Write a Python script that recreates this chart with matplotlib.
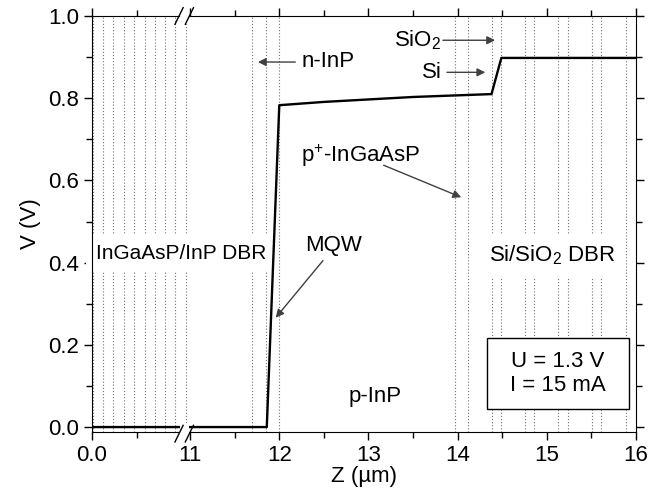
import numpy as np
import matplotlib
matplotlib.use("Agg")
import matplotlib.pyplot as plt
from matplotlib.patches import Rectangle

plt.rcParams['font.family'] = ['Liberation Sans', 'DejaVu Sans']
plt.rcParams['mathtext.default'] = 'regular'

# potential profile along the device
z_curve = [0.0, 11.86, 12.0, 12.5, 13.0, 13.5, 14.0, 14.38, 14.49, 16.0]
v_curve = [0.0, 0.0, 0.783, 0.791, 0.797, 0.803, 0.807, 0.810, 0.898, 0.898]

# layer interfaces (dotted lines)
dbr_bottom = [0.01, 0.123, 0.239, 0.359, 0.471, 0.591, 0.703, 0.815, 0.934, 1.05]
active = [11.69, 11.85, 12.0]
p_layers = [13.97, 14.115]
dbr_top = [14.38, 14.49, 14.75, 14.86, 15.13, 15.24, 15.51, 15.61, 15.89]

xticks = [0, 11, 12, 13, 14, 15, 16]
xticklabels = ['0.0', '11', '12', '13', '14', '15', '16']
xminor = [0.5, 11.5, 12.5, 13.5, 14.5, 15.5]
yticks = [0.0, 0.2, 0.4, 0.6, 0.8, 1.0]

# broken axis: 1.06..10.98 squeezed into a tiny gap
A, B, UB = 1.06, 10.98, 1.08


def fwd(z):
    z = np.asarray(z, float)
    return np.where(z <= A, z, np.where(z >= B, z - B + UB, A + (z - A) * (UB - A) / (B - A)))


def inv(u):
    u = np.asarray(u, float)
    return np.where(u <= A, u, np.where(u >= UB, u - UB + B, A + (u - A) * (B - A) / (UB - A)))


fig = plt.figure(figsize=(6.6, 4.97), dpi=100)
ax = fig.add_axes([92/660, 1 - 432/497, 544/660, 416/497])
ax.set_xscale('function', functions=(fwd, inv))
ax.set_xlim(0, 16)
ax.set_ylim(-0.012, 1.0)

for z in dbr_bottom + active + p_layers + dbr_top:
    ax.axvline(z, color='0.45', lw=0.8, ls=(0, (1, 1.8)), zorder=1)

ax.plot(z_curve, v_curve, color='black', lw=1.7, zorder=7)

fs = 16
ax.set_xticks(xticks)
ax.set_xticklabels(xticklabels)
ax.set_xticks(xminor, minor=True)
ax.set_yticks(yticks)
ax.set_yticklabels(['%.1f' % y for y in yticks])
ax.set_yticks(np.arange(0.1, 1.0, 0.2), minor=True)
ax.tick_params(which='both', direction='out', top=True, right=True, labelsize=fs, width=1)
ax.tick_params(which='major', length=6)
ax.tick_params(which='minor', length=4)
ax.set_xlabel('Z (µm)', fontsize=fs, labelpad=0)
ax.set_ylabel('V (V)', fontsize=fs, labelpad=5)

white = dict(facecolor='white', edgecolor='none', pad=7)
arrow = dict(arrowstyle='-|>', color='0.25', lw=1.0, mutation_scale=12, shrinkA=0, shrinkB=0)

ax.text(0.164, 0.43, 'InGaAsP/InP DBR', transform=ax.transAxes, ha='center', va='center',
        fontsize=15, bbox=white, zorder=2)
ax.text(15.06, 0.417, 'Si/SiO$_2$ DBR', ha='center', va='center', fontsize=fs, bbox=white, zorder=2)
ax.text(12.25, 0.89, 'n-InP', ha='left', va='center', fontsize=fs)
ax.annotate('', xy=(11.76, 0.888), xytext=(12.18, 0.888), arrowprops=arrow)
ax.text(13.82, 0.941, 'SiO$_2$', ha='right', va='center', fontsize=fs)
ax.annotate('', xy=(14.42, 0.941), xytext=(13.835, 0.941), arrowprops=arrow)
ax.text(13.82, 0.863, 'Si', ha='right', va='center', fontsize=fs)
ax.annotate('', xy=(14.31, 0.863), xytext=(13.88, 0.863), arrowprops=arrow)
ax.text(12.91, 0.661, 'p$^{+}$-InGaAsP', ha='center', va='center', fontsize=fs)
ax.annotate('', xy=(14.04, 0.559), xytext=(13.17, 0.637), arrowprops=arrow)
ax.text(12.61, 0.441, 'MQW', ha='center', va='center', fontsize=fs)
ax.annotate('', xy=(11.96, 0.266), xytext=(12.49, 0.405), arrowprops=arrow)
ax.text(13.07, 0.075, 'p-InP', ha='center', va='center', fontsize=fs)

# U / I box
ax.add_patch(Rectangle((0.726, 0.055), 0.261, 0.171, transform=ax.transAxes,
                       facecolor='white', edgecolor='black', lw=1, zorder=5))
ax.text(0.8565, 0.14, 'U = 1.3 V\nI = 15 mA', transform=ax.transAxes, ha='center', va='center',
        fontsize=fs, linespacing=1.2, zorder=6)

# break marks on top and bottom spines
for yc in (0.0, 1.0):
    y0 = yc - 0.004 if yc == 0 else yc
    ax.add_patch(Rectangle((0.162, y0 - 0.02), 0.016, 0.046 if yc == 0 else 0.03,
                           transform=ax.transAxes, facecolor='white', edgecolor='none',
                           clip_on=False, zorder=10))
    for xc in (0.160, 0.179):
        ax.plot([xc - 0.0075, xc + 0.0075], [y0 - 0.02, y0 + 0.02], color='black', lw=1,
                transform=ax.transAxes, clip_on=False, zorder=11)

fig.savefig('out.png', dpi=100)
